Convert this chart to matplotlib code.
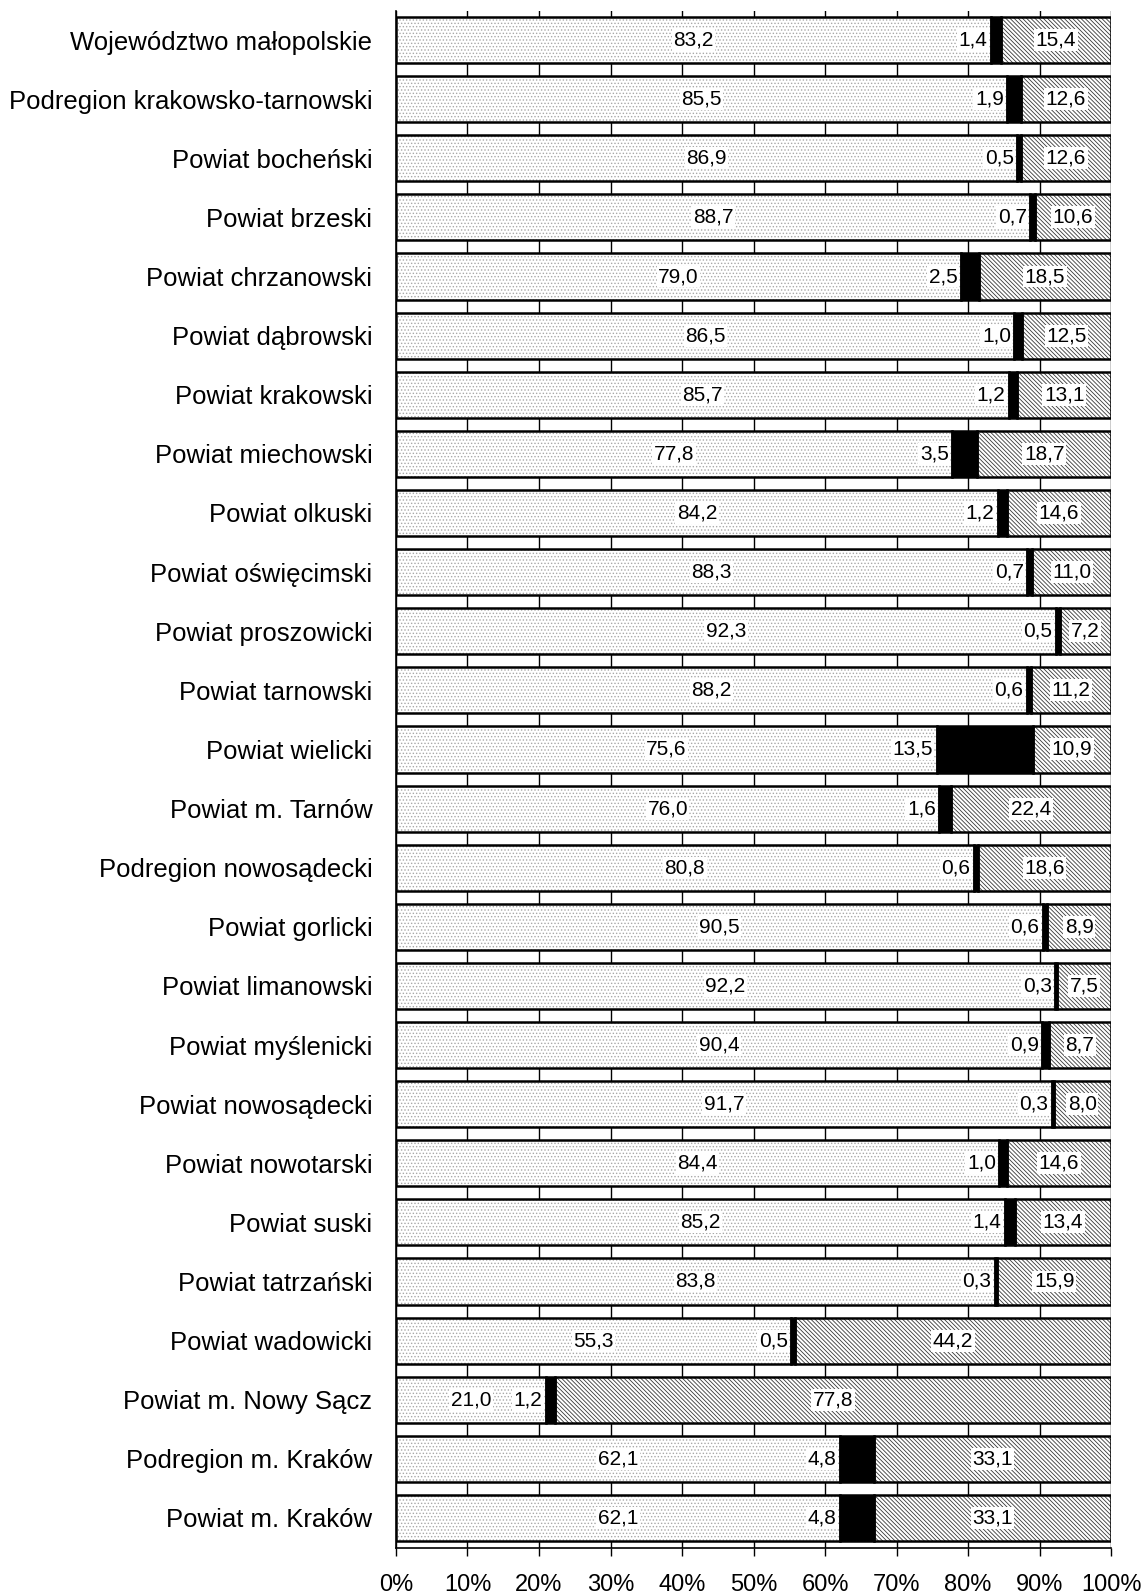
import numpy as np
import matplotlib
matplotlib.use("Agg")
import matplotlib.pyplot as plt
from matplotlib import rcParams

rcParams['font.family'] = ['Liberation Sans', 'DejaVu Sans']
rcParams['hatch.linewidth'] = 0.6

# kategorie (od góry)
regiony = [
    "Województwo małopolskie", "Podregion krakowsko-tarnowski", "Powiat bocheński",
    "Powiat brzeski", "Powiat chrzanowski", "Powiat dąbrowski", "Powiat krakowski",
    "Powiat miechowski", "Powiat olkuski", "Powiat oświęcimski", "Powiat proszowicki",
    "Powiat tarnowski", "Powiat wielicki", "Powiat m. Tarnów", "Podregion nowosądecki",
    "Powiat gorlicki", "Powiat limanowski", "Powiat myślenicki", "Powiat nowosądecki",
    "Powiat nowotarski", "Powiat suski", "Powiat tatrzański", "Powiat wadowicki",
    "Powiat m. Nowy Sącz", "Podregion m. Kraków", "Powiat m. Kraków",
]
seria1 = [83.2, 85.5, 86.9, 88.7, 79.0, 86.5, 85.7, 77.8, 84.2, 88.3, 92.3, 88.2, 75.6,
          76.0, 80.8, 90.5, 92.2, 90.4, 91.7, 84.4, 85.2, 83.8, 55.3, 21.0, 62.1, 62.1]
seria2 = [1.4, 1.9, 0.5, 0.7, 2.5, 1.0, 1.2, 3.5, 1.2, 0.7, 0.5, 0.6, 13.5,
          1.6, 0.6, 0.6, 0.3, 0.9, 0.3, 1.0, 1.4, 0.3, 0.5, 1.2, 4.8, 4.8]
seria3 = [15.4, 12.6, 12.6, 10.6, 18.5, 12.5, 13.1, 18.7, 14.6, 11.0, 7.2, 11.2, 10.9,
          22.4, 18.6, 8.9, 7.5, 8.7, 8.0, 14.6, 13.4, 15.9, 44.2, 77.8, 33.1, 33.1]
ticki_x = [0, 10, 20, 30, 40, 50, 60, 70, 80, 90, 100]


def fmt(v):
    return f"{v:.1f}".replace('.', ',')


s1 = np.array(seria1)
s2 = np.array(seria2)
s3 = np.array(seria3)
y = np.arange(len(regiony))
h = 0.78

fig = plt.figure(figsize=(11.45, 15.94), dpi=100)
ax = fig.add_axes([0.34585, 0.02917, 0.97031 - 0.34585, 0.99341 - 0.02917])

# siatka pionowa pod słupkami
for t in ticki_x:
    ax.axvline(t, color='black', lw=1.0, zorder=0)

# segment 1 - kropki
ax.barh(y, s1, height=h, color='white', edgecolor='#a8a8a8', hatch='.....', lw=0, zorder=2)
ax.barh(y, s1, height=h, fill=False, edgecolor='black', lw=1.8, zorder=3)
# segment 2 - czarny
ax.barh(y, s2, left=s1, height=h, color='black', edgecolor='black', lw=1.8, zorder=3)
# segment 3 - gęste ukośne kreski
ax.barh(y, s3, left=s1 + s2, height=h, color='white', edgecolor='#383838',
        hatch='\\' * 8, lw=0, zorder=2)
ax.barh(y, s3, left=s1 + s2, height=h, fill=False, edgecolor='black', lw=1.8, zorder=3)

box = dict(facecolor='white', edgecolor='none', pad=1.0)
for i in range(len(regiony)):
    ax.text(s1[i] / 2, y[i], fmt(s1[i]), ha='center', va='center', fontsize=15,
            bbox=box, zorder=5)
    ax.text(s1[i] - 0.5, y[i], fmt(s2[i]), ha='right', va='center', fontsize=15,
            bbox=box, zorder=5)
    ax.text(s1[i] + s2[i] + s3[i] / 2, y[i], fmt(s3[i]), ha='center', va='center',
            fontsize=15, bbox=box, zorder=5)

ax.set_xlim(0, 100)
ax.set_ylim(len(regiony) - 0.5, -0.5)
ax.set_xticks(ticki_x)
ax.set_xticklabels([f"{t}%" for t in ticki_x], fontsize=17)
ax.set_yticks(y)
ax.set_yticklabels(regiony, fontsize=18.5)
ax.tick_params(axis='y', length=0, pad=17)
ax.tick_params(axis='x', length=6, width=1.0, pad=13, direction='out')

for s in ['top', 'right']:
    ax.spines[s].set_visible(False)
ax.spines['left'].set_linewidth(1.2)
ax.spines['bottom'].set_linewidth(1.2)
ax.spines['left'].set_zorder(4)

fig.savefig("out.png", dpi=100)
